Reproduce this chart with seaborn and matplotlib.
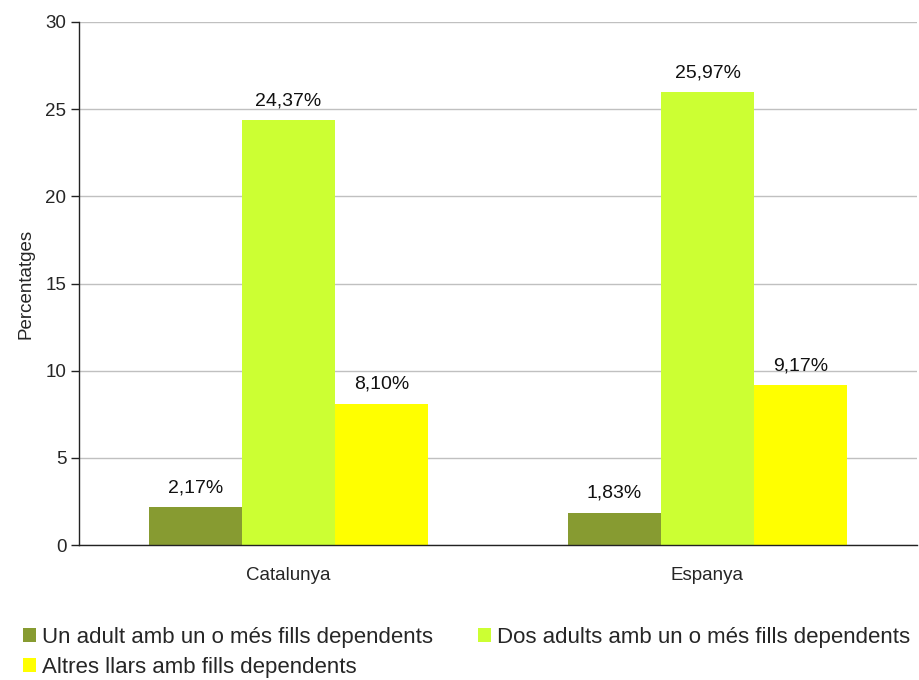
import matplotlib
matplotlib.use("Agg")
import matplotlib.pyplot as plt
import seaborn as sns
import pandas as pd
from matplotlib.patches import Patch

regions = ["Catalunya", "Espanya"]
series = ["Un adult amb un o més fills dependents",
          "Dos adults amb un o més fills dependents",
          "Altres llars amb fills dependents"]
values_un = [2.17, 1.83]
values_dos = [24.37, 25.97]
values_altres = [8.10, 9.17]
colors = ["#879B31", "#CCFF33", "#FFFF00"]
yticks = [0, 5, 10, 15, 20, 25, 30]
ylabel = "Percentatges"

rows = []
for s, vals in zip(series, [values_un, values_dos, values_altres]):
    for r, v in zip(regions, vals):
        rows.append({"region": r, "serie": s, "value": v})
df = pd.DataFrame(rows)

sns.set_style("white")
plt.rcParams["font.family"] = ["Liberation Sans", "DejaVu Sans"]

fig = plt.figure(figsize=(9.2, 6.8), dpi=100)
ax = fig.add_axes([79/920, 1-545/680, (917-79)/920, (545-22)/680])

sns.barplot(data=df, x="region", y="value", hue="serie", order=regions,
            hue_order=series, palette=colors, saturation=1, width=0.668,
            gap=0, ax=ax, legend=False, linewidth=0, edgecolor="none")

for cont in ax.containers:
    labels = [f"{b.get_height():.2f}".replace(".", ",") + "%" for b in cont]
    ax.bar_label(cont, labels=labels, padding=8, fontsize=14, color="#111111")

ax.set_ylim(0, 30)
ax.set_xlim(-0.5, 1.5)
ax.set_yticks(yticks)
ax.set_yticklabels([str(t) for t in yticks], fontsize=13.5)
ax.set_xticks([0, 1])
ax.set_xticklabels(regions, fontsize=13.5)
ax.set_xticks([-0.5, 0.5, 1.5], minor=True)
ax.tick_params(axis="x", which="major", length=0, pad=16)
ax.tick_params(axis="x", which="minor", length=6, width=1, color="#222222", direction="out")
ax.tick_params(axis="y", length=6, width=1, color="#222222", direction="out", pad=3, left=True)
ax.yaxis.grid(True, color="#C0C0C0", linewidth=1)
ax.set_axisbelow(True)
ax.set_xlabel("")
ax.set_ylabel(ylabel, fontsize=13.5, labelpad=8)
for side in ["top", "right"]:
    ax.spines[side].set_visible(False)
for side in ["left", "bottom"]:
    ax.spines[side].set_color("#222222")
    ax.spines[side].set_linewidth(1)

handles = [Patch(facecolor=c, edgecolor="none") for c in colors]
order = [0, 2, 1]
fig.legend([handles[i] for i in order], [series[i] for i in order],
           loc="upper left", bbox_to_anchor=(0.025, 0.078),
           ncol=2, frameon=False, fontsize=16, handlelength=0.6,
           handleheight=0.6, handletextpad=0.27, columnspacing=2.0,
           labelspacing=0.4, borderaxespad=0, borderpad=0)

fig.savefig("out.png", dpi=100)
